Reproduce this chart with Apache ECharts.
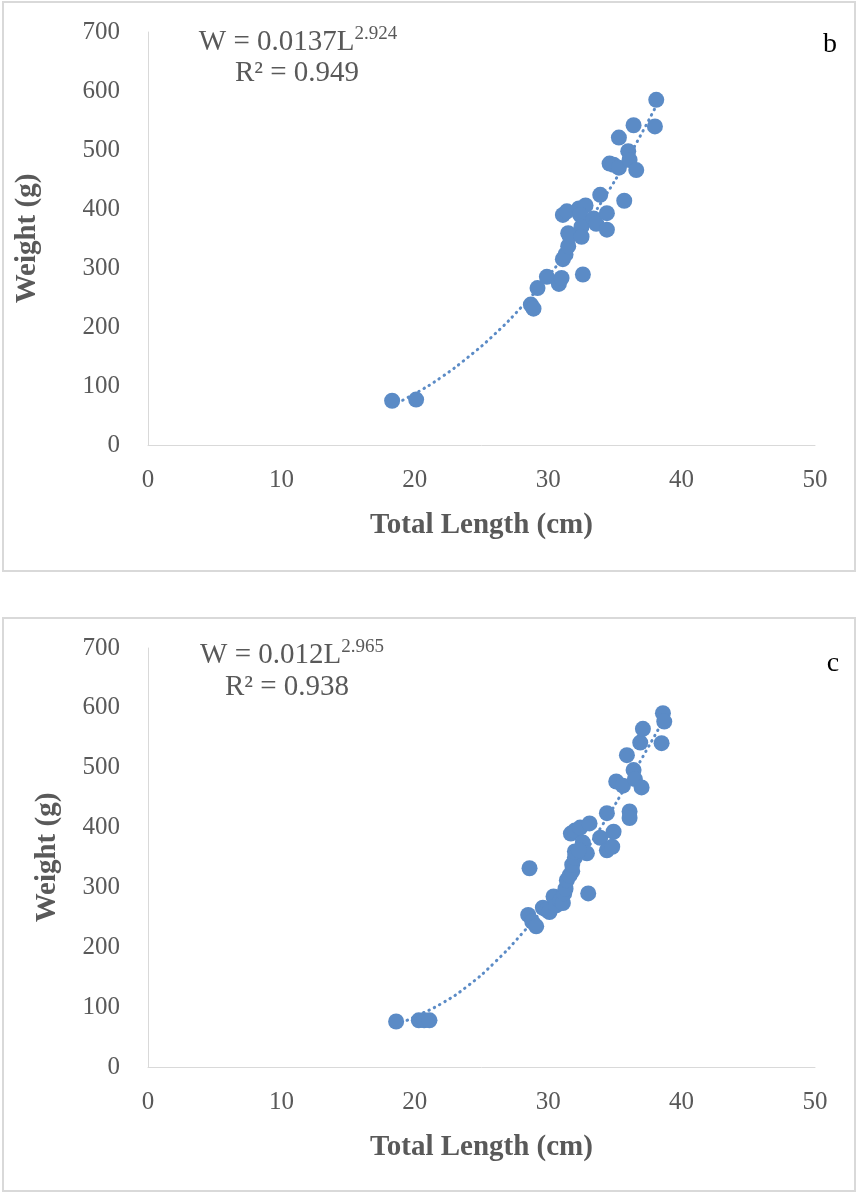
<!DOCTYPE html>
<html>
<head>
<meta charset="utf-8">
<script src="https://cdn.jsdelivr.net/npm/echarts@6/dist/echarts.min.js"></script>
<style>
html,body{margin:0;padding:0;background:#fff;}
#chart{width:858px;height:1193px;}
</style>
</head>
<body>
<div id="chart"></div>
<script>
// ---- data ----
const xTicks = [0, 10, 20, 30, 40, 50];
const yTicks = [0, 100, 200, 300, 400, 500, 600, 700];

// Panel b
const lengthB = [18.3, 20.1, 28.7, 28.9, 29.2, 29.9, 30.8, 31.0, 32.6, 31.1, 31.3, 31.5, 31.5, 31.6, 31.1, 31.4, 32.3, 32.8, 32.4, 32.5, 32.5, 33.4, 33.6, 34.4, 34.4, 33.9, 35.7, 34.6, 34.9, 35.3, 36.0, 36.1, 36.6, 35.3, 36.4, 38.1, 38.0];
const weightB = [75, 77, 238, 231, 266, 285, 273, 283, 289, 315, 323, 337, 359, 355, 390, 396, 401, 406, 390, 370, 353, 384, 375, 393, 365, 424, 414, 477, 475, 470, 498, 483, 466, 521, 542, 585, 540];
const trendLengthB = [18.3, 20, 22, 24, 26, 28, 30, 32, 34, 36, 38.1];
const trendWeightB = [67, 87, 115, 149, 188, 234, 286, 345, 412, 487, 575];

// Panel c
const lengthC = [18.6, 20.3, 20.7, 21.1, 28.6, 28.5, 28.8, 29.1, 29.6, 29.9, 30.1, 30.4, 30.6, 30.9, 31.1, 31.2, 31.3, 31.4, 31.6, 31.8, 31.8, 32.0, 32.0, 31.7, 32.0, 32.4, 33.1, 32.6, 32.9, 32.3, 33.0, 33.9, 34.4, 34.8, 34.9, 34.4, 36.1, 36.1, 35.1, 35.6, 36.4, 36.5, 37.0, 35.9, 36.9, 37.1, 38.5, 38.6, 38.7];
const weightC = [76, 78, 78, 78, 332, 254, 243, 235, 266, 262, 259, 285, 270, 278, 274, 290, 298, 312, 320, 327, 338, 350, 360, 390, 395, 400, 407, 375, 357, 362, 290, 383, 362, 368, 393, 424, 427, 416, 477, 470, 496, 481, 467, 521, 542, 565, 541, 591, 577];
const trendLengthC = [18.6, 20, 22, 24, 26, 28, 30, 32, 34, 36, 38.6];
const trendWeightC = [70, 84, 106, 136, 175, 222, 275, 335, 402, 476, 578];

// ---- styling ----
const blue = '#5B8BC6';
const grey = '#595959';
const serif = '"Liberation Serif", "Times New Roman", serif';

function zip(a, b) { return a.map((v, i) => [v, b[i]]); }

function xAxisCfg(gridIndex) {
  return {
    gridIndex, type: 'value', min: 0, max: 50, interval: 10,
    name: 'Total Length (cm)', nameLocation: 'middle', nameGap: 66,
    nameTextStyle: { fontFamily: serif, fontSize: 29, fontWeight: 'bold', color: grey },
    axisLine: { show: true, lineStyle: { color: '#d9d9d9', width: 1 } },
    axisTick: { show: false }, splitLine: { show: false },
    axisLabel: { fontFamily: serif, fontSize: 25, color: grey, margin: 23,
      formatter: v => xTicks.includes(v) ? String(v) : '' }
  };
}
function yAxisCfg(gridIndex, gap) {
  return {
    gridIndex, type: 'value', min: 0, max: 700, interval: 100,
    name: 'Weight (g)', nameLocation: 'middle', nameGap: gap,
    nameTextStyle: { fontFamily: serif, fontSize: 29, fontWeight: 'bold', color: grey },
    axisLine: { show: true, lineStyle: { color: '#d9d9d9', width: 1 } },
    axisTick: { show: false }, splitLine: { show: false },
    axisLabel: { fontFamily: serif, fontSize: 25, color: grey, margin: 28,
      formatter: v => yTicks.includes(v) ? String(v) : '' }
  };
}

const eqRich = {
  a: { fontFamily: serif, fontSize: 29, fill: grey },
  s: { fontFamily: serif, fontSize: 19, fill: grey, verticalAlign: 'top', padding: [0, 0, 15, 0] }
};

const chart = echarts.init(document.getElementById('chart'), null, { renderer: 'canvas' });
chart.setOption({
  animation: false,
  backgroundColor: '#fff',
  grid: [
    { left: 148, width: 667, top: 32, height: 413 },
    { left: 148, width: 667, top: 648, height: 419 }
  ],
  xAxis: [xAxisCfg(0), xAxisCfg(1)],
  yAxis: [yAxisCfg(0, 106), yAxisCfg(1, 86)],
  graphic: [
    { type: 'rect', shape: { x: 3, y: 2, width: 852, height: 569 }, style: { fill: null, stroke: '#d9d9d9', lineWidth: 2 }, silent: true },
    { type: 'rect', shape: { x: 3, y: 618, width: 852, height: 573 }, style: { fill: null, stroke: '#d9d9d9', lineWidth: 2 }, silent: true },
    { type: 'text', x: 298, y: 42, style: { rich: eqRich, text: '{a|W = 0.0137L}{s|2.924}', align: 'center', verticalAlign: 'middle' } },
    { type: 'text', x: 297, y: 73, style: { text: 'R² = 0.949', fontFamily: serif, fontSize: 29, fill: grey, align: 'center', verticalAlign: 'middle' } },
    { type: 'text', x: 830, y: 45, style: { text: 'b', fontFamily: serif, fontSize: 28, fill: '#000', align: 'center', verticalAlign: 'middle' } },
    { type: 'text', x: 292, y: 655, style: { rich: eqRich, text: '{a|W = 0.012L}{s|2.965}', align: 'center', verticalAlign: 'middle' } },
    { type: 'text', x: 287, y: 687, style: { text: 'R² = 0.938', fontFamily: serif, fontSize: 29, fill: grey, align: 'center', verticalAlign: 'middle' } },
    { type: 'text', x: 833, y: 664, style: { text: 'c', fontFamily: serif, fontSize: 28, fill: '#000', align: 'center', verticalAlign: 'middle' } }
  ],
  series: [
    { type: 'line', xAxisIndex: 0, yAxisIndex: 0, data: zip(trendLengthB, trendWeightB), smooth: true, showSymbol: false, symbol: 'none',
      lineStyle: { color: blue, width: 3, type: [0.5, 5.5], cap: 'round' }, z: 1 },
    { type: 'scatter', xAxisIndex: 0, yAxisIndex: 0, data: zip(lengthB, weightB), symbol: 'circle', symbolSize: 16,
      itemStyle: { color: blue, opacity: 1 }, z: 2 },
    { type: 'line', xAxisIndex: 1, yAxisIndex: 1, data: zip(trendLengthC, trendWeightC), smooth: true, showSymbol: false, symbol: 'none',
      lineStyle: { color: blue, width: 3, type: [0.5, 5.5], cap: 'round' }, z: 1 },
    { type: 'scatter', xAxisIndex: 1, yAxisIndex: 1, data: zip(lengthC, weightC), symbol: 'circle', symbolSize: 16,
      itemStyle: { color: blue, opacity: 1 }, z: 2 }
  ]
});
</script>
</body>
</html>
